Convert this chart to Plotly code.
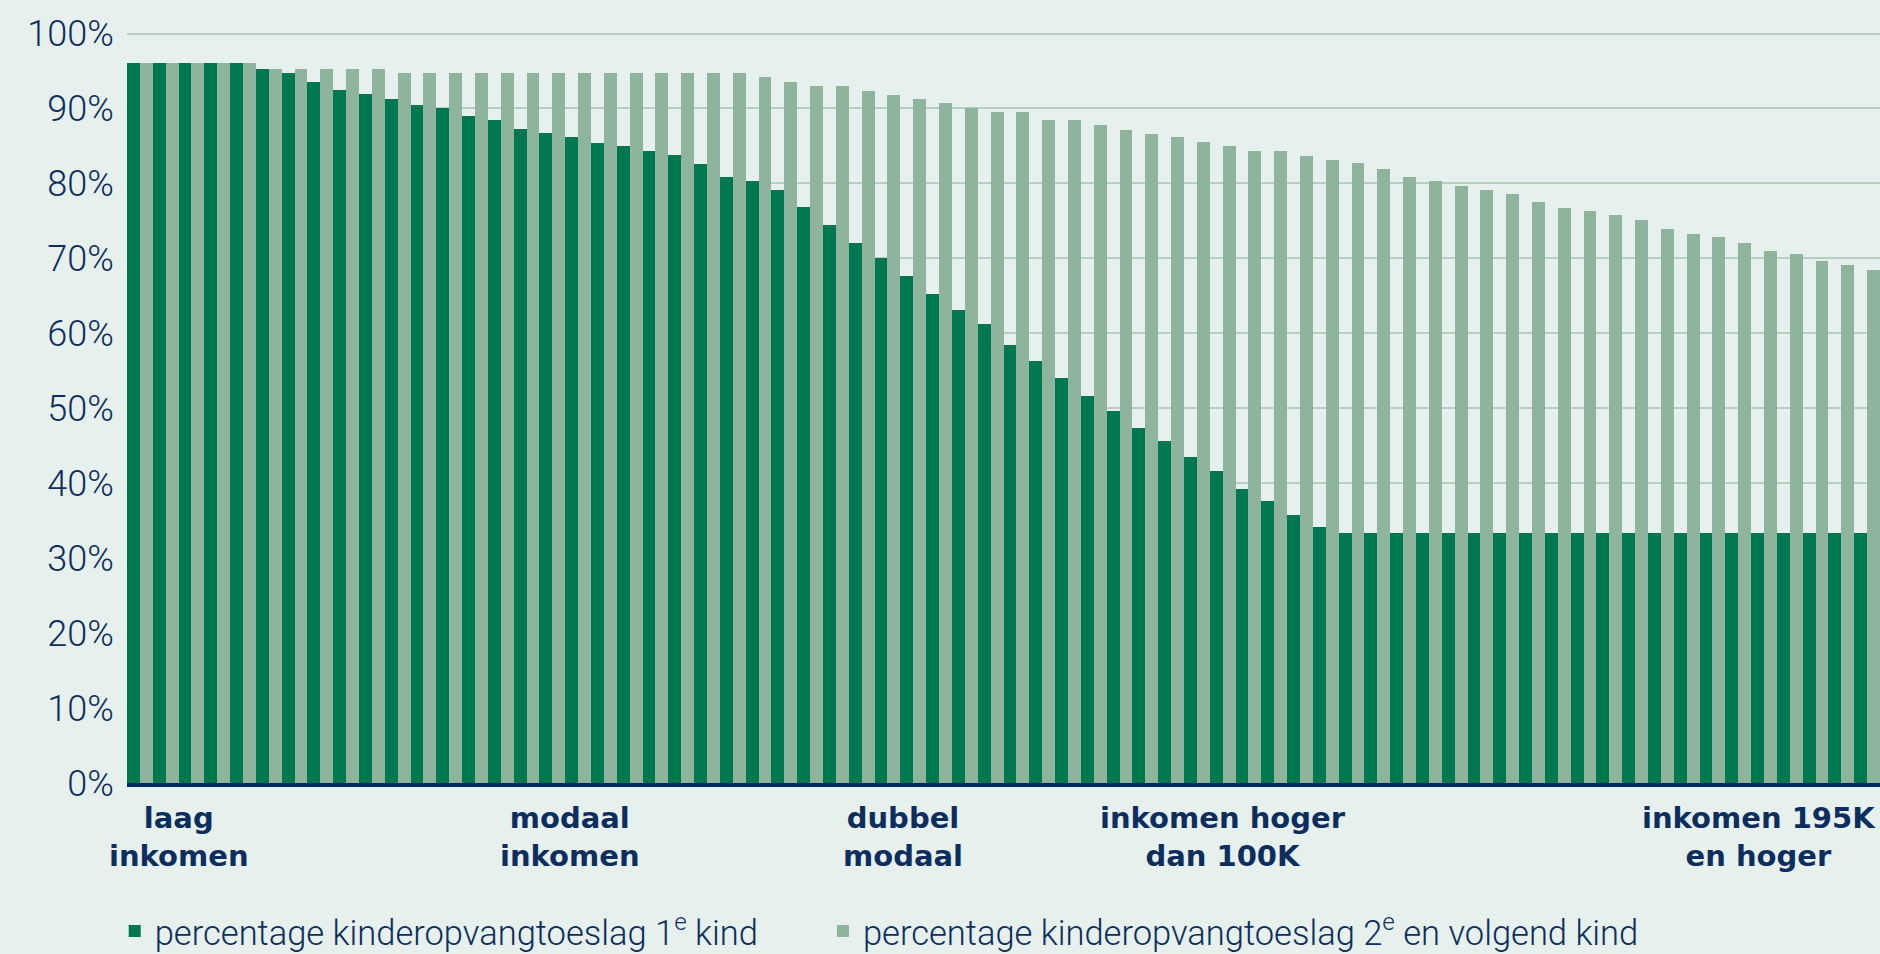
import plotly.graph_objects as go

# group index (income steps from low to high)
groups = list(range(68))

first_child = [96, 96, 96, 96, 96, 95.2, 94.7, 93.5, 92.4, 91.9,
               91.2, 90.5, 90.0, 89.0, 88.4, 87.2, 86.7, 86.2, 85.4, 85.0,
               84.3, 83.8, 82.6, 80.8, 80.3, 79.1, 76.8, 74.4, 72.1, 70.0,
               67.6, 65.2, 63.1, 61.2, 58.4, 56.3, 54.1, 51.6, 49.6, 47.4,
               45.6, 43.5, 41.6, 39.2, 37.6, 35.8, 34.2, 33.3, 33.3, 33.3,
               33.3, 33.3, 33.3, 33.3, 33.3, 33.3, 33.3, 33.3, 33.3, 33.3,
               33.3, 33.3, 33.3, 33.3, 33.3, 33.3, 33.3, 33.3]

next_child = [96, 96, 96, 96, 96, 95.2, 95.2, 95.2, 95.2, 95.2,
              94.7, 94.7, 94.7, 94.7, 94.7, 94.7, 94.7, 94.7, 94.7, 94.7,
              94.7, 94.7, 94.7, 94.7, 94.2, 93.5, 93.0, 93.0, 92.3, 91.8,
              91.2, 90.7, 90.0, 89.5, 89.5, 88.4, 88.4, 87.8, 87.1, 86.6,
              86.2, 85.5, 85.0, 84.3, 84.3, 83.6, 83.1, 82.7, 81.9, 80.8,
              80.3, 79.6, 79.1, 78.6, 77.5, 76.7, 76.3, 75.8, 75.1, 73.9,
              73.2, 72.8, 72.1, 71.0, 70.6, 69.6, 69.1, 68.5]

series_names = ["percentage kinderopvangtoeslag 1<sup>e</sup> kind",
                "percentage kinderopvangtoeslag 2<sup>e</sup> en volgend kind"]

# income category labels and the group position they sit under
label_pos = [1.5, 16.7, 29.6, 42.0, 62.8]
label_text = ["laag<br>inkomen", "modaal<br>inkomen", "dubbel<br>modaal",
              "inkomen hoger<br>dan 100K", "inkomen 195K<br>en hoger"]

y_ticks = [0, 10, 20, 30, 40, 50, 60, 70, 80, 90, 100]
y_tick_text = ["0%", "10%", "20%", "30%", "40%", "50%", "60%", "70%", "80%", "90%", "100%"]

DARK = "#00784f"
LIGHT = "#8fb49d"
BG = "#e6f0ec"
NAVY = "#0c2e5e"
GRID = "#b7cfc1"

fig = go.Figure()
fig.add_trace(go.Bar(x=groups, y=first_child, name=series_names[0], legend="legend",
                     marker=dict(color=DARK, line=dict(width=0))))
fig.add_trace(go.Bar(x=groups, y=next_child, name=series_names[1], legend="legend2",
                     marker=dict(color=LIGHT, line=dict(width=0))))

for pos, txt in zip(label_pos, label_text):
    fig.add_annotation(x=pos, y=0, xref="x", yref="y", text=txt,
                       showarrow=False, xanchor="center", yanchor="middle",
                       yshift=-54, align="center",
                       font=dict(family="DejaVu Sans, Liberation Sans",
                                 size=29, color=NAVY, weight="bold"))

legend_font = dict(family="Roboto", size=34.5, color=NAVY, weight=300)

fig.update_layout(
    width=1880, height=954,
    margin=dict(l=127, r=0, t=26, b=171, autoexpand=False),
    paper_bgcolor=BG, plot_bgcolor=BG,
    barmode="group", bargap=0, bargroupgap=0,
    showlegend=True,
    legend=dict(orientation="h", x=-0.007, y=-0.234, xanchor="left", yanchor="bottom",
                font=legend_font, bgcolor="rgba(0,0,0,0)"),
    legend2=dict(orientation="h", x=0.397, y=-0.234, xanchor="left", yanchor="bottom",
                 font=legend_font, bgcolor="rgba(0,0,0,0)"),
    xaxis=dict(range=[-0.5, 67.5], showticklabels=False, showgrid=False,
               zeroline=False, showline=True, linecolor="#002a5c", linewidth=4,
               ticks=""),
    yaxis=dict(range=[0, 101], tickmode="array", tickvals=y_ticks, ticktext=y_tick_text,
               showgrid=True, gridcolor=GRID, gridwidth=2, zeroline=False,
               ticks="outside", ticklen=5, tickcolor=BG,
               tickfont=dict(family="Roboto", size=36, color=NAVY, weight=300)),
)

fig.write_html("out.html", config={"displayModeBar": False},
               post_script="document.body.style.margin='0';document.body.style.overflow='hidden';")
